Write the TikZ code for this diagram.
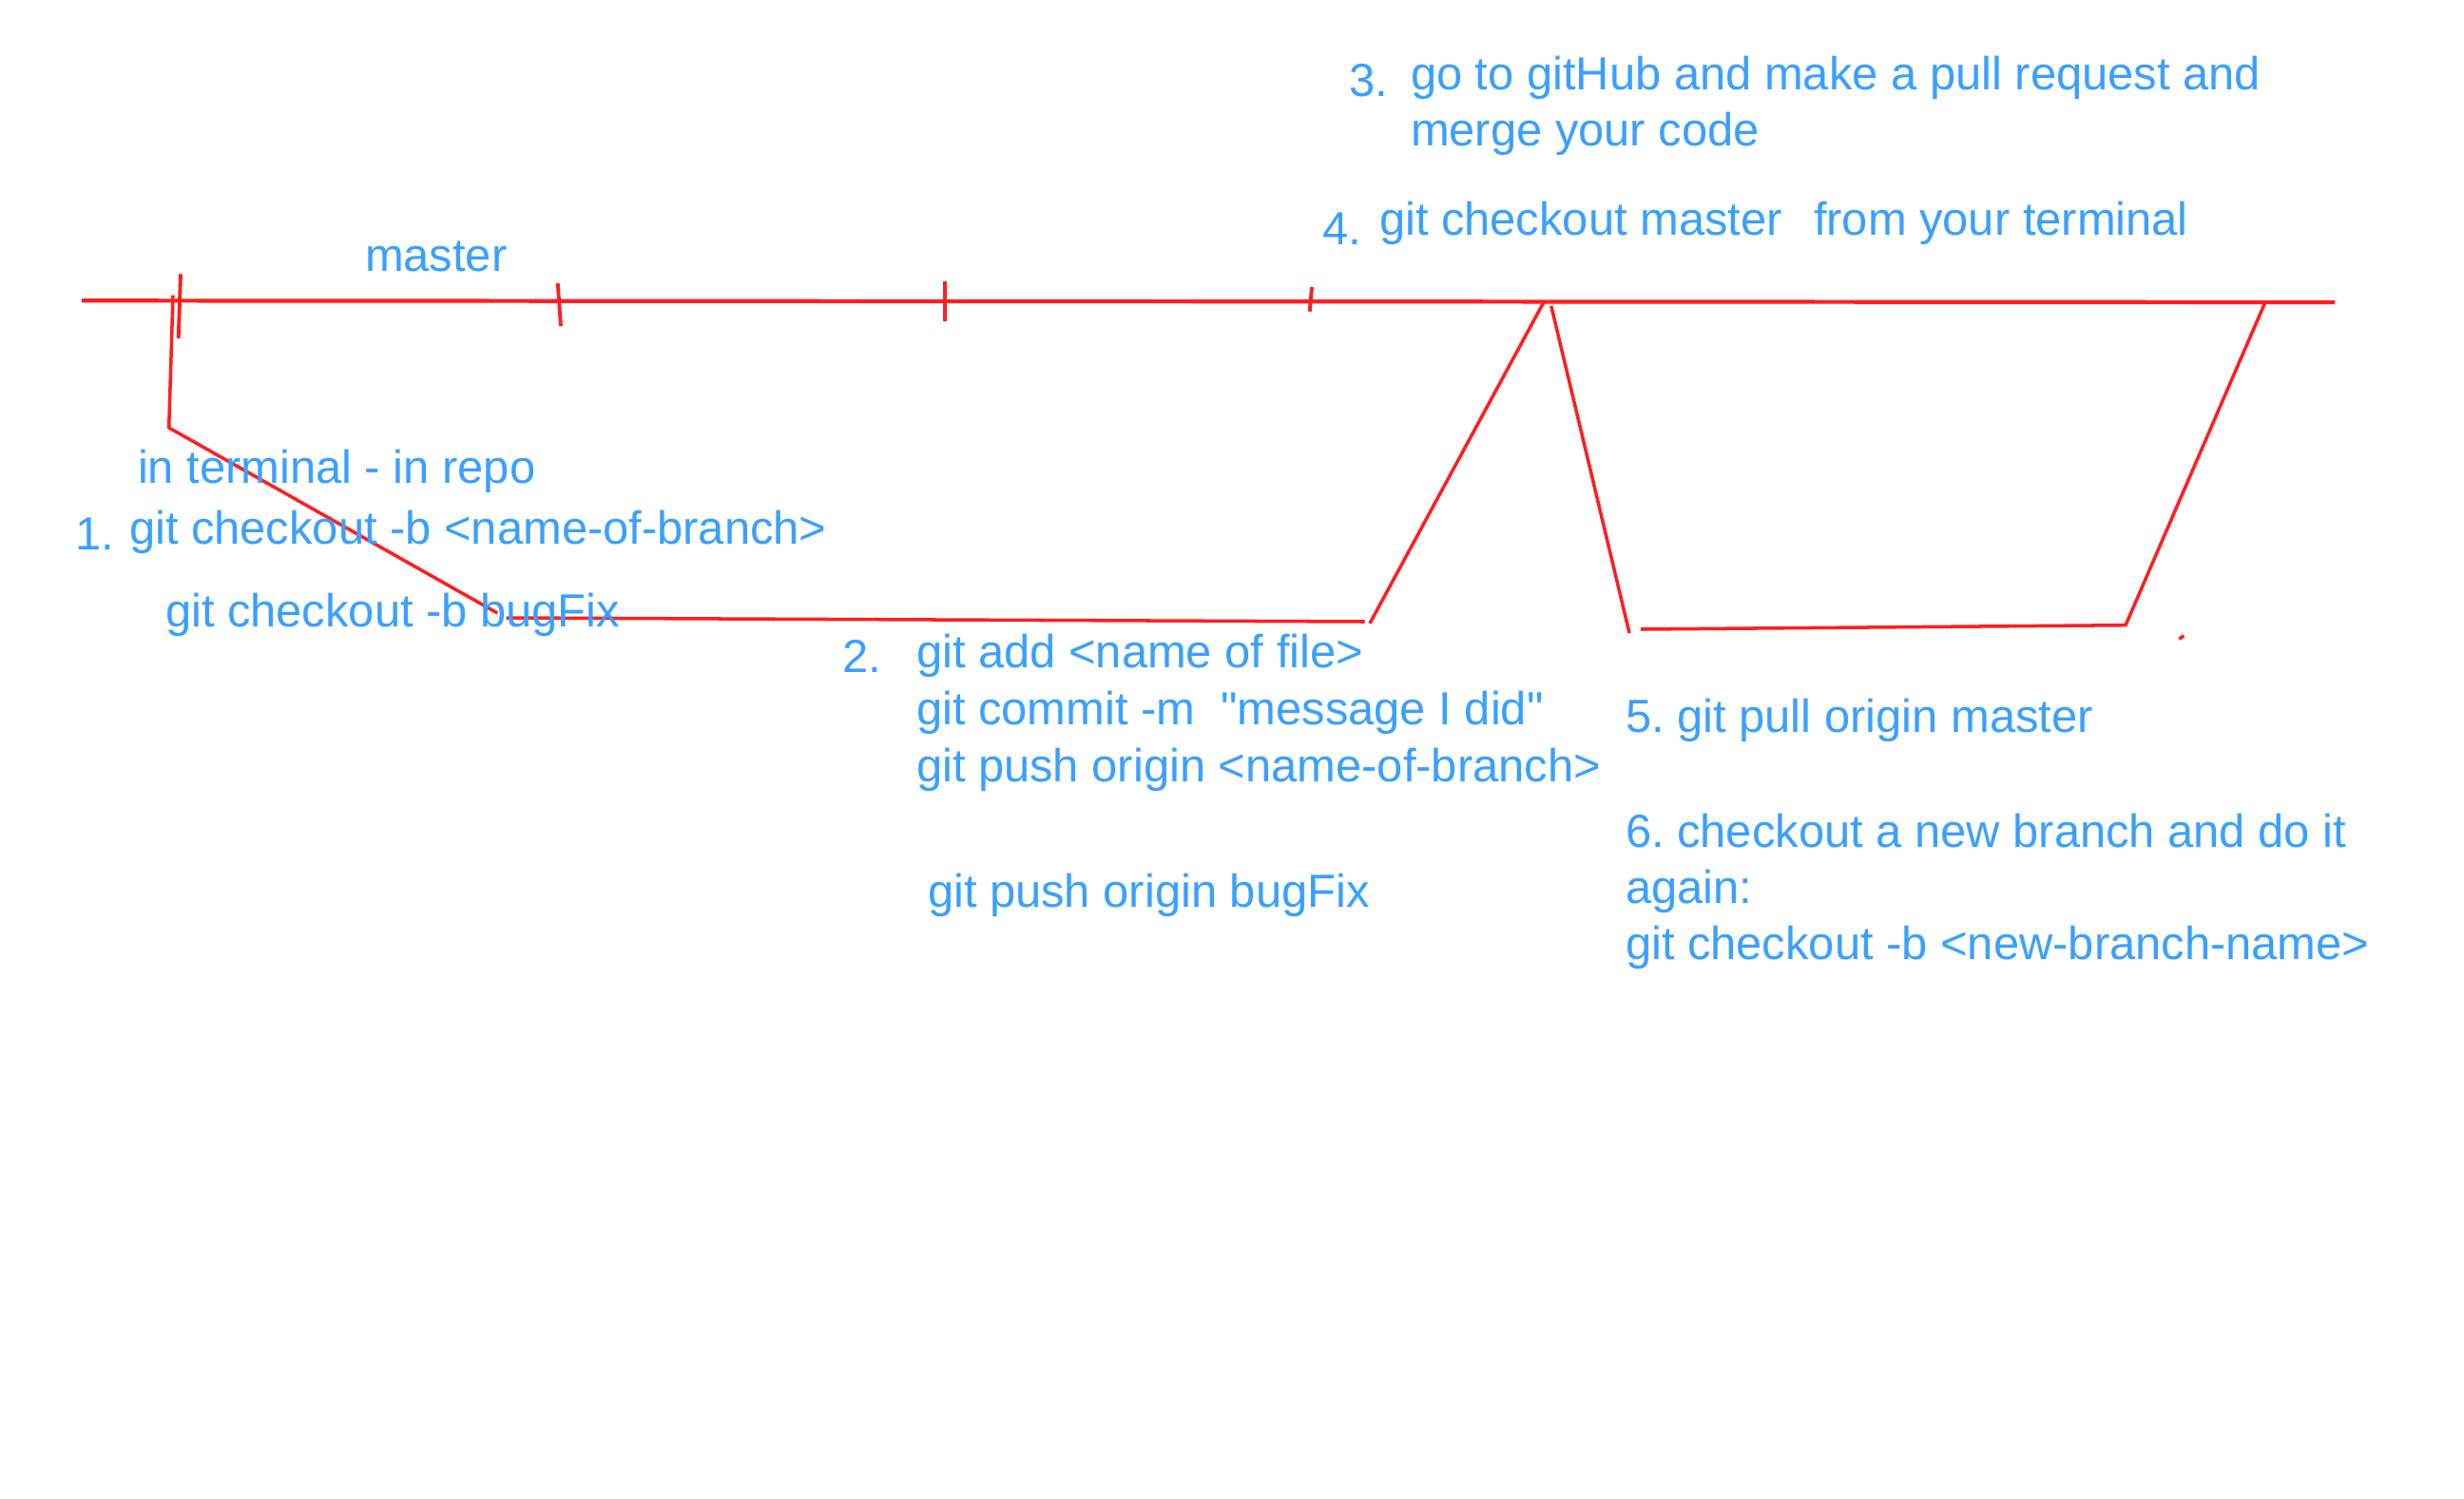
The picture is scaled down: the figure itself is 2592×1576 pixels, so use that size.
\documentclass[tikz,border=0pt]{standalone}
\usepackage{fontspec}
\setmainfont{Liberation Sans}
\frenchspacing
\definecolor{inkblue}{RGB}{58,160,255}
\definecolor{inkred}{RGB}{255,30,32}
\tikzset{
  lbl/.style={anchor=base west, inner sep=0pt, outer sep=0pt, text=inkblue,
    font=\fontsize{13.9pt}{17pt}\selectfont\frenchspacing},
  mainline/.style={draw=inkred, line width=1.2pt},
  branchline/.style={draw=inkred, line width=1.0pt},
  tickline/.style={draw=inkred, line width=1.1pt}
}
\begin{document}
\begin{tikzpicture}[x=0.01cm, y=-0.01cm]
\useasboundingbox (0,0) rectangle (2592,1576);
\fill[white] (0,0) rectangle (2592,1576);

% master line
\coordinate (mL) at (86,316.3);
\coordinate (mR) at (2456,318);
\draw[mainline] (mL) -- (mR);

% ticks
\draw[tickline] (190,288.3) -- (187.7,356);
\draw[tickline] (586.7,298) -- (590,343.3);
\draw[tickline] (994,296) -- (994,337.7);
\draw[tickline] (1380,302) -- (1377.7,327.7);

% branch 1
\coordinate (b1a) at (182,310.7);
\coordinate (b1b) at (177.7,450);
\coordinate (b1c) at (523.3,645);
\coordinate (b1d) at (532.7,650);
\coordinate (b1e) at (1435.7,654);
\coordinate (b1f) at (1441,655.7);
\coordinate (b1g) at (1624,317.7);
\draw[branchline] (b1a) -- (b1b) -- (b1c);
\draw[branchline] (b1d) -- (b1e);
\draw[branchline] (b1f) -- (b1g);

% branch 2
\coordinate (b2a) at (1631.7,321.7);
\coordinate (b2b) at (1714,666);
\coordinate (b2c) at (1726,662);
\coordinate (b2d) at (2236,657.7);
\coordinate (b2e) at (2382.7,318.3);
\draw[branchline] (b2a) -- (b2b);
\draw[branchline] (b2c) -- (b2d) -- (b2e);

% stray dot
\draw[branchline] (2292.3,672.3) -- (2297.3,668.7);

% texts
\node[lbl] (master) at (384,285) {master};
\node[lbl] (interm) at (145,508) {in terminal - in repo};
\node[lbl] (n1) at (79,578) {1.};
\node[lbl] (s1) at (136,572) {git checkout -b <name-of-branch>};
\node[lbl] (s1b) at (174,659) {git checkout -b bugFix};

\node[lbl] (n2) at (886,707) {2.};
\node[lbl] (s2a) at (964,702) {git add <name of file>};
\node[lbl] (s2b) at (964,762) {git commit -m\ \ \textquotedbl message I did\textquotedbl};
\node[lbl] (s2c) at (964,822) {git push origin <name-of-branch>};
\node[lbl] (s2d) at (976,954) {git push origin bugFix};

\node[lbl] (n3) at (1419,102) {3.};
\node[lbl] (s3a) at (1484,95) {go to gitHub and make a pull request and};
\node[lbl] (s3b) at (1484,153) {merge your code};

\node[lbl] (n4) at (1391,258) {4.};
\node[lbl] (s4a) at (1451,248) {git checkout master};
\node[lbl] (s4b) at (1908,247) {from your terminal};

\node[lbl] (s5) at (1710,770) {5. git pull origin master};
\node[lbl] (s6a) at (1710,891) {6. checkout a new branch and do it};
\node[lbl] (s6b) at (1710,950) {again:};
\node[lbl] (s6c) at (1710,1009) {git checkout -b <new-branch-name>};
\end{tikzpicture}
\end{document}
